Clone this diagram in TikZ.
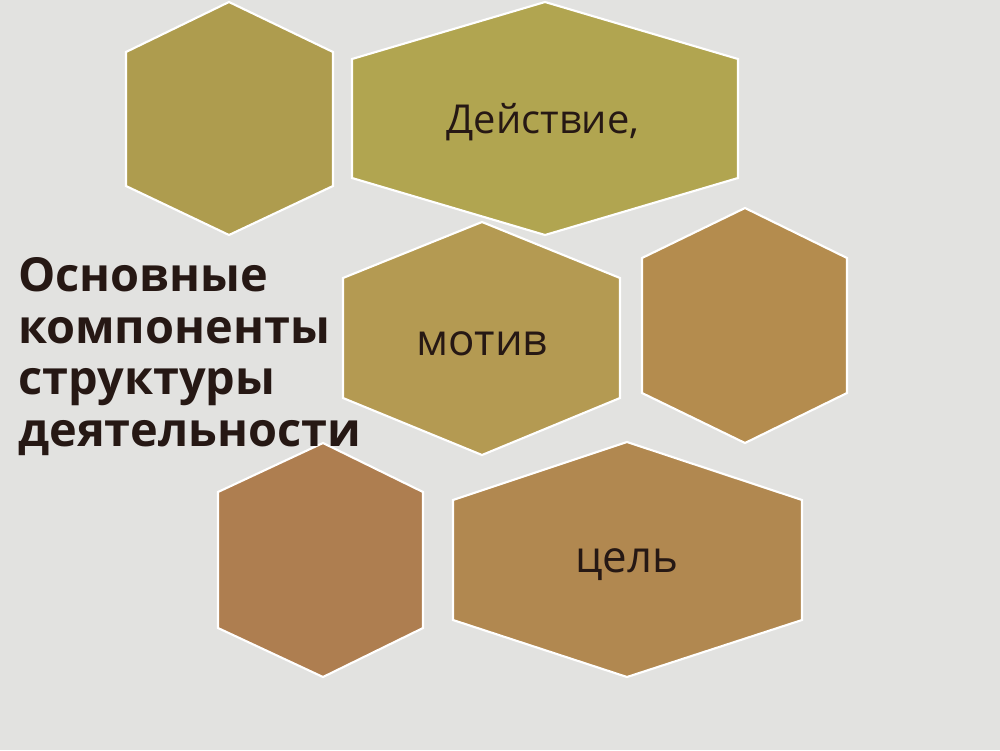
\documentclass[tikz,border=0pt]{standalone}
\usepackage{fontspec}
\setmainfont{Open Sans}
\definecolor{bgcol}{RGB}{226,226,224}
\definecolor{hexA}{RGB}{174,156,78}
\definecolor{hexB}{RGB}{177,165,80}
\definecolor{hexC}{RGB}{180,154,82}
\definecolor{hexD}{RGB}{180,140,78}
\definecolor{hexE}{RGB}{174,126,80}
\definecolor{hexF}{RGB}{177,136,80}
\definecolor{txtcol}{RGB}{38,24,20}
\tikzset{
  hexa/.style={draw=white,line width=1.6pt,line join=miter},
  lbl/.style={text=txtcol,font=\fontsize{33}{38}\selectfont,inner sep=0pt},
  ttl/.style={text=txtcol,font=\bfseries\fontsize{35.3}{39}\selectfont,align=left,inner sep=0pt}
}
\begin{document}
\begin{tikzpicture}[x=0.02646cm,y=-0.02646cm]
\fill[bgcol] (0,0) rectangle (1000,750);
\useasboundingbox (0,0) rectangle (1000,750);
% upper row
\draw[hexa,fill=hexA] (126,52) -- (229,2) -- (333,52) -- (333,186) -- (229,235) -- (126,186) -- cycle;
\draw[hexa,fill=hexB] (352,59) -- (545,2) -- (738,59) -- (738,178) -- (545,235) -- (352,178) -- cycle;
% middle row
\draw[hexa,fill=hexC] (343,278) -- (482,222) -- (620,278) -- (620,398) -- (482,455) -- (343,398) -- cycle;
\draw[hexa,fill=hexD] (642,258) -- (745,208) -- (847,258) -- (847,393) -- (745,443) -- (642,393) -- cycle;
% lower row
\draw[hexa,fill=hexE] (218,492) -- (323,443) -- (423,492) -- (423,628) -- (323,677) -- (218,628) -- cycle;
\draw[hexa,fill=hexF] (453,500) -- (627,442) -- (802,500) -- (802,620) -- (627,677) -- (453,620) -- cycle;
% labels
\node[lbl,font=\fontsize{30}{36}\selectfont] (deistvie) at (543,122) {Действие,};
\node[lbl] (motiv) at (482,344) {мотив};
\node[lbl] (tsel) at (627,565) {цель};
\node[ttl,anchor=north west] (zagolovok) at (18,257) {Основные\\компоненты\\структуры\\деятельности};
\end{tikzpicture}
\end{document}
